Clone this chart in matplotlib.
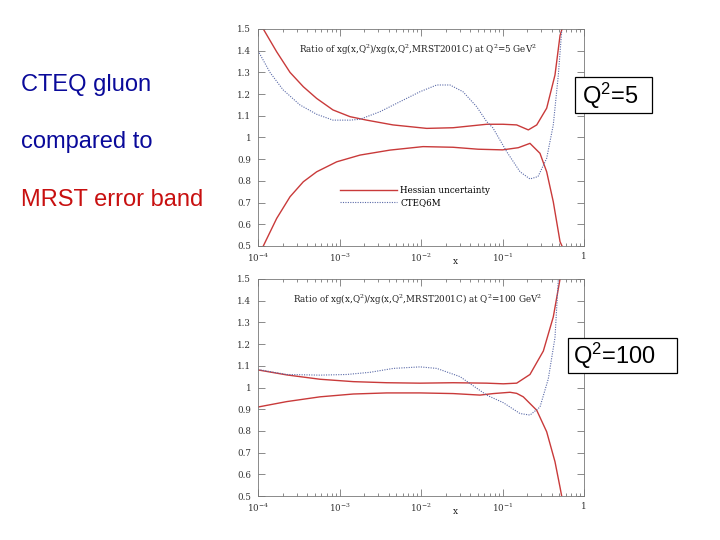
import numpy as np
import matplotlib
matplotlib.use("Agg")
import matplotlib.pyplot as plt
from matplotlib.patches import Rectangle
from matplotlib.ticker import LogLocator, NullFormatter

plt.rcParams["mathtext.fontset"] = "dejavuserif"

# ---- data (log10 x, ratio) ----
# Q^2 = 5 GeV^2
q5_up_logx = [-3.935, -3.771, -3.607, -3.444, -3.280, -3.080, -2.871, -2.666, -2.344, -1.930, -1.607, -1.194, -0.994, -0.826, -0.683, -0.580, -0.458, -0.356, -0.294, -0.270]
q5_up_val = [1.50, 1.395, 1.30, 1.234, 1.18, 1.127, 1.096, 1.08, 1.058, 1.042, 1.045, 1.061, 1.061, 1.058, 1.035, 1.058, 1.135, 1.288, 1.47, 1.50]
q5_lo_logx = [-3.935, -3.771, -3.607, -3.444, -3.280, -3.034, -2.748, -2.380, -1.975, -1.607, -1.300, -1.000, -0.806, -0.663, -0.540, -0.458, -0.377, -0.294, -0.270]
q5_lo_val = [0.50, 0.627, 0.727, 0.796, 0.842, 0.888, 0.919, 0.942, 0.958, 0.955, 0.946, 0.943, 0.953, 0.973, 0.927, 0.842, 0.704, 0.52, 0.50]
q5_cteq_logx = [-4.0, -3.853, -3.693, -3.485, -3.280, -3.080, -2.871, -2.748, -2.503, -2.258, -2.012, -1.807, -1.644, -1.485, -1.317, -1.194, -1.117, -0.949, -0.785, -0.663, -0.564, -0.458, -0.377, -0.315, -0.274]
q5_cteq_val = [1.40, 1.30, 1.22, 1.15, 1.107, 1.08, 1.08, 1.084, 1.119, 1.165, 1.211, 1.242, 1.242, 1.211, 1.142, 1.073, 1.044, 0.935, 0.842, 0.809, 0.82, 0.904, 1.058, 1.288, 1.49]

# Q^2 = 100 GeV^2
q100_up_logx = [-4.0, -3.648, -3.239, -2.831, -2.421, -2.012, -1.604, -1.194, -0.990, -0.826, -0.663, -0.499, -0.377, -0.294]
q100_up_val = [1.081, 1.058, 1.038, 1.027, 1.022, 1.02, 1.022, 1.02, 1.017, 1.02, 1.06, 1.168, 1.325, 1.50]
q100_lo_logx = [-4.0, -3.648, -3.239, -2.831, -2.421, -2.012, -1.604, -1.276, -1.113, -0.908, -0.826, -0.745, -0.580, -0.458, -0.356, -0.294, -0.274]
q100_lo_val = [0.91, 0.935, 0.957, 0.97, 0.975, 0.975, 0.972, 0.965, 0.972, 0.978, 0.973, 0.957, 0.895, 0.796, 0.658, 0.54, 0.50]
q100_cteq_logx = [-4.0, -3.648, -3.239, -2.912, -2.626, -2.340, -2.012, -1.807, -1.521, -1.194, -0.990, -0.785, -0.663, -0.540, -0.438, -0.356, -0.315]
q100_cteq_val = [1.083, 1.06, 1.057, 1.06, 1.07, 1.088, 1.095, 1.088, 1.05, 0.965, 0.93, 0.88, 0.873, 0.91, 1.04, 1.23, 1.50]

y_ticks = [0.5, 0.6, 0.7, 0.8, 0.9, 1.0, 1.1, 1.2, 1.3, 1.4, 1.5]
y_tick_labels = ["0.5", "0.6", "0.7", "0.8", "0.9", "1", "1.1", "1.2", "1.3", "1.4", "1.5"]
x_ticks = [1e-4, 1e-3, 1e-2, 1e-1, 1]
x_tick_labels = [r"$\mathregular{10^{-4}}$", r"$\mathregular{10^{-3}}$", r"$\mathregular{10^{-2}}$", r"$\mathregular{10^{-1}}$", "1"]

RED = "#c93a3a"
BLUE = "#5a6aa8"

fig = plt.figure(figsize=(7.2, 5.4), dpi=100)
W, H = 720.0, 540.0

def make_axes(top_px, bottom_px, up, lo, cteq, title, legend):
    ax = fig.add_axes([258 / W, 1 - bottom_px / H, (584 - 258) / W, (bottom_px - top_px) / H])
    ax.set_xscale("log")
    ax.set_xlim(1e-4, 1)
    ax.set_ylim(0.5, 1.5)
    ax.plot(10 ** np.array(up[0]), up[1], color=RED, lw=1.0, label="Hessian uncertainty")
    ax.plot(10 ** np.array(lo[0]), lo[1], color=RED, lw=1.0)
    ax.plot(10 ** np.array(cteq[0]), cteq[1], color=BLUE, lw=0.8, ls=(0, (1, 1.2)), label="CTEQ6M")
    ax.set_yticks(y_ticks)
    ax.set_yticklabels(y_tick_labels, family="DejaVu Serif", fontsize=6.3, color="#333333")
    ax.set_xticks(x_ticks)
    ax.set_xticklabels(x_tick_labels, family="DejaVu Serif", fontsize=6.3, color="#333333")
    ax.xaxis.set_minor_locator(LogLocator(base=10, subs=np.arange(2, 10), numticks=20))
    ax.xaxis.set_minor_formatter(NullFormatter())
    ax.tick_params(which="both", direction="in", top=True, right=True, color="#777777", width=0.6)
    ax.tick_params(which="major", length=5)
    ax.tick_params(which="minor", length=2.5)
    ax.tick_params(axis="x", pad=4)
    ax.tick_params(axis="y", pad=5)
    for s in ax.spines.values():
        s.set_color("#777777")
        s.set_linewidth(0.6)
    ax.text(0.49, 0.905, title, transform=ax.transAxes, ha="center", va="center",
            family="DejaVu Serif", fontsize=6.3, color="#222222")
    ax.text(0.605, -0.07, "x", transform=ax.transAxes, ha="center", va="center",
            family="DejaVu Serif", fontsize=6.5, color="#222222")
    if legend:
        ax.legend(loc="upper left", bbox_to_anchor=(0.238, 0.295), frameon=False,
                  prop={"family": "DejaVu Serif", "size": 6.3}, handlelength=6.5,
                  handletextpad=0.4, labelspacing=0.35, borderpad=0)
    return ax

make_axes(29, 246, (q5_up_logx, q5_up_val), (q5_lo_logx, q5_lo_val),
          (q5_cteq_logx, q5_cteq_val),
          r"Ratio of xg(x,Q$^2$)/xg(x,Q$^2$,MRST2001C) at Q$^2$=5 GeV$^2$", True)
make_axes(279, 496, (q100_up_logx, q100_up_val), (q100_lo_logx, q100_lo_val),
          (q100_cteq_logx, q100_cteq_val),
          r"Ratio of xg(x,Q$^2$)/xg(x,Q$^2$,MRST2001C) at Q$^2$=100 GeV$^2$", False)

# left-hand text
fig.text(21 / W, 1 - 85 / H, "CTEQ gluon", family="Liberation Sans", fontsize=17,
         color="#0a0a9a", va="center", ha="left")
fig.text(21 / W, 1 - 142 / H, "compared to", family="Liberation Sans", fontsize=17,
         color="#0a0a9a", va="center", ha="left")
fig.text(21 / W, 1 - 200 / H, "MRST error band", family="Liberation Sans", fontsize=17,
         color="#c81010", va="center", ha="left")

# boxed Q^2 labels
def px_rect(x0, y0, x1, y1):
    fig.patches.append(Rectangle((x0 / W, 1 - y1 / H), (x1 - x0) / W, (y1 - y0) / H,
                                 transform=fig.transFigure, fc="white", ec="black",
                                 lw=0.9, zorder=5))

px_rect(575, 77, 652, 113)
fig.text(610 / W, 1 - 96 / H, r"Q$^{\mathregular{2}}$=5", family="Liberation Sans",
         fontsize=17, color="black", va="center", ha="center", zorder=6)
px_rect(568, 338, 677, 373)
fig.text(573 / W, 1 - 356 / H, r"Q$^{\mathregular{2}}$=100", family="Liberation Sans",
         fontsize=17, color="black", va="center", ha="left", zorder=6)

fig.savefig("out.png", dpi=100)
